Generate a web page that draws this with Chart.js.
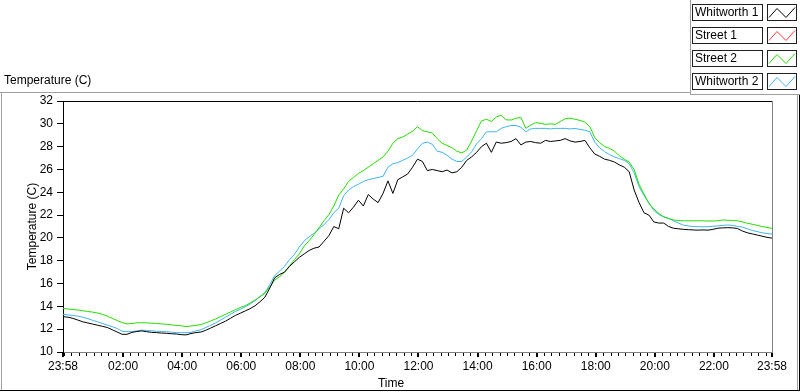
<!DOCTYPE html>
<html lang="en">
<head>
<meta charset="UTF-8" />
<title>Temperature (C)</title>
<style>
  body { margin: 0; background: #ffffff; }
  canvas { display: block; }
</style>
</head>
<body>
<canvas id="tempChart" width="800" height="392"></canvas>

<script src="https://cdn.jsdelivr.net/npm/chart.js"></script>
<script>
  // minutes since 23:58 (10 min samples)
  const timeMinutes = [
    0, 10, 20, 30, 40, 50, 60, 70, 80, 90, 100, 110,
    120, 130, 140, 150, 160, 170, 180, 190, 200, 210, 220, 230,
    240, 250, 260, 270, 280, 290, 300, 310, 320, 330, 340, 350,
    360, 370, 380, 390, 400, 410, 420, 430, 440, 450, 460, 470,
    480, 490, 500, 510, 520, 530, 540, 550, 560, 570, 580, 590,
    600, 610, 620, 630, 640, 650, 660, 670, 680, 690, 700, 710,
    720, 730, 740, 750, 760, 770, 780, 790, 800, 810, 820, 830,
    840, 850, 860, 870, 880, 890, 900, 910, 920, 930, 940, 950,
    960, 970, 980, 990, 1000, 1010, 1020, 1030, 1040, 1050, 1060, 1070,
    1080, 1090, 1100, 1110, 1120, 1130, 1140, 1150, 1160, 1170, 1180, 1190,
    1200, 1210, 1220, 1230, 1240, 1250, 1260, 1270, 1280, 1290, 1300, 1310,
    1320, 1330, 1340, 1350, 1360, 1370, 1380, 1390, 1400, 1410, 1420, 1430,
    1440
  ];

  const whitworth1 = [
    13.1, 13.05, 12.95, 12.8, 12.65, 12.55, 12.45, 12.35, 12.25, 12.15, 11.95, 11.75,
    11.55, 11.55, 11.72, 11.8, 11.85, 11.78, 11.72, 11.7, 11.66, 11.64, 11.6, 11.58,
    11.52, 11.5, 11.62, 11.7, 11.75, 11.9, 12.1, 12.3, 12.5, 12.7, 12.95, 13.2,
    13.4, 13.6, 13.8, 14.05, 14.4, 14.8, 15.6, 16.5, 16.8, 17.0, 17.5, 17.9,
    18.3, 18.6, 18.9, 19.1, 19.2, 19.7, 20.2, 21.0, 20.8, 22.6, 22.2, 22.7,
    23.3, 22.8, 23.8, 23.4, 23.1, 23.9, 25.0, 23.9, 25.1, 25.35, 25.6, 26.2,
    26.9, 26.7, 25.9, 26.0, 25.9, 25.8, 25.95, 25.7, 25.8, 26.2, 26.8, 27.1,
    27.5, 28.0, 28.3, 27.5, 28.4, 28.3, 28.35, 28.45, 28.7, 28.15, 28.4, 28.45,
    28.35, 28.3, 28.55, 28.45, 28.5, 28.55, 28.7, 28.5, 28.4, 28.45, 28.55, 27.9,
    27.35, 27.15, 26.9, 26.8, 26.65, 26.4, 26.2, 25.8, 24.2, 23.1, 22.2, 22.0,
    21.4, 21.3, 21.3, 21.0, 20.85, 20.8, 20.75, 20.72, 20.7, 20.68, 20.7, 20.68,
    20.75, 20.85, 20.88, 20.9, 20.88, 20.82, 20.6, 20.45, 20.35, 20.25, 20.15, 20.05,
    19.98
  ];

  const street1 = [];

  const street2 = [
    13.83, 13.77, 13.72, 13.68, 13.62, 13.55, 13.5, 13.42, 13.3, 13.14, 12.95, 12.76,
    12.58, 12.46, 12.5, 12.55, 12.57, 12.55, 12.52, 12.5, 12.46, 12.43, 12.38, 12.33,
    12.3, 12.22, 12.28, 12.34, 12.4, 12.55, 12.72, 12.9, 13.1, 13.3, 13.5, 13.7,
    13.9, 14.05, 14.3, 14.55, 14.85, 15.15, 15.7, 16.3, 16.6, 17.0, 17.55, 18.1,
    18.6, 19.3, 19.75, 20.3, 20.9, 21.5, 22.05, 22.8, 23.75, 24.3, 24.95, 25.3,
    25.65, 25.9, 26.2, 26.5, 26.8, 27.1, 27.6, 28.3, 28.7, 28.85, 29.1, 29.35,
    29.75, 29.4, 29.3, 29.2, 28.7, 28.3, 28.1, 27.9, 27.6, 27.45, 27.7, 28.5,
    29.4, 30.25, 30.4, 30.2, 30.6, 30.75, 30.35, 30.33, 30.5, 30.55, 29.6, 29.9,
    30.1, 30.05, 29.95, 30.0, 29.95, 30.2, 30.45, 30.5, 30.4, 30.3, 30.15, 29.75,
    28.8, 28.35, 28.0, 27.85, 27.6, 27.2, 26.9, 26.65, 26.0, 24.7, 23.85, 23.0,
    22.55, 22.15, 21.85, 21.7, 21.57, 21.53, 21.5, 21.5, 21.5, 21.5, 21.5, 21.48,
    21.48, 21.5, 21.57, 21.55, 21.52, 21.5, 21.4, 21.28, 21.2, 21.1, 21.0, 20.92,
    20.84
  ];

  const whitworth2 = [
    13.3, 13.25, 13.2, 13.15, 13.05, 12.93, 12.78, 12.65, 12.5, 12.36, 12.22, 12.06,
    11.82, 11.78, 11.78, 11.85, 11.92, 11.88, 11.86, 11.82, 11.8, 11.78, 11.74, 11.7,
    11.69, 11.69, 11.72, 11.85, 11.95, 12.15, 12.35, 12.55, 12.8, 13.05, 13.3, 13.55,
    13.75, 13.95, 14.2, 14.5, 14.85, 15.2, 15.9, 16.7, 17.1, 17.5, 18.1, 18.55,
    19.2, 19.75, 20.1, 20.4, 20.8, 21.15, 21.6, 22.2, 22.6, 23.7, 24.2, 24.5,
    24.7, 24.95, 25.1, 25.2, 25.3, 25.4, 26.2, 26.5, 26.6, 26.8, 27.0, 27.25,
    27.8, 28.3, 28.4, 28.2, 27.6, 27.5, 27.25, 26.9, 26.7, 26.7, 27.1, 27.55,
    28.25, 28.7, 29.3, 29.3, 29.3, 29.6, 29.75, 29.85, 29.85, 29.7, 29.3, 29.55,
    29.6, 29.6, 29.6, 29.55, 29.6, 29.6, 29.6, 29.55, 29.6, 29.5, 29.45, 29.3,
    28.4, 27.9, 27.55, 27.3, 27.1, 26.95, 26.8, 26.5, 25.7, 24.5, 23.7, 23.1,
    22.4, 22.05, 21.85, 21.72, 21.5, 21.3, 21.12, 21.05, 21.0, 20.98, 20.98, 20.98,
    21.02, 21.05, 21.1, 21.13, 21.1, 21.0, 20.95, 20.8, 20.65, 20.55, 20.45, 20.38,
    20.34
  ];

  const seriesNames = ["Whitworth 1", "Street 1", "Street 2", "Whitworth 2"];
  const seriesColors = ["#000000", "#ff3b3b", "#22dd00", "#3fb4f2"];
  const seriesValues = [whitworth1, street1, street2, whitworth2];

  const xTickMinutes = [0, 122, 242, 362, 482, 602, 722, 842, 962, 1082, 1202, 1322, 1440];
  const xTickLabels = ["23:58", "02:00", "04:00", "06:00", "08:00", "10:00", "12:00",
                       "14:00", "16:00", "18:00", "20:00", "22:00", "23:58"];

  const FONT = "'Liberation Sans', Arial, sans-serif";

  function hline(ctx, color, x1, x2, y) {
    ctx.strokeStyle = color;
    ctx.beginPath(); ctx.moveTo(x1, y); ctx.lineTo(x2, y); ctx.stroke();
  }
  function vline(ctx, color, x, y1, y2) {
    ctx.strokeStyle = color;
    ctx.beginPath(); ctx.moveTo(x, y1); ctx.lineTo(x, y2); ctx.stroke();
  }

  // panel frame, caption, legend, minor ticks and axis titles
  const panelPlugin = {
    id: "panel",
    afterDraw(chart) {
      const ctx = chart.ctx;
      const area = chart.chartArea;
      const xs = chart.scales.x;
      ctx.save();
      ctx.lineWidth = 1;

      // outer frame
      hline(ctx, "#a0a0a0", 0, 690, 92.5);
      vline(ctx, "#a0a0a0", 1.5, 92, 390);
      vline(ctx, "#a0a0a0", 690.5, 0, 95);
      hline(ctx, "#a0a0a0", 690, 800, 94.5);
      vline(ctx, "#a0a0a0", 797.5, 95, 390);
      hline(ctx, "#000000", 0, 800, 390.5);
      vline(ctx, "#000000", 799.5, 95, 391);

      // plot box: top black, right grey
      hline(ctx, "#000000", area.left, area.right, Math.round(area.top) + 0.5);
      vline(ctx, "#808080", Math.round(area.right) + 0.5, area.top, area.bottom + 1);

      // minor ticks every 15 min
      ctx.strokeStyle = "#000000";
      for (let m = 2; m <= 1440; m += 15) {
        const px = Math.round(xs.getPixelForValue(m)) + 0.5;
        ctx.beginPath();
        ctx.moveTo(px, area.bottom + 1);
        ctx.lineTo(px, area.bottom + 4);
        ctx.stroke();
      }

      ctx.fillStyle = "#000000";
      ctx.font = "12px " + FONT;
      ctx.textBaseline = "middle";

      // caption
      ctx.textAlign = "left";
      ctx.fillText("Temperature (C)", 4, 81);

      // axis titles
      ctx.textAlign = "center";
      ctx.fillText("Time", 391, 384);
      ctx.save();
      ctx.translate(33, (area.top + area.bottom) / 2);
      ctx.rotate(-Math.PI / 2);
      ctx.fillText("Temperature (C)", 0, 0);
      ctx.restore();

      // legend
      const rowTop = [4.5, 27.5, 50.5, 73.5];
      seriesNames.forEach((name, i) => {
        const t = rowTop[i];
        ctx.strokeStyle = "#202020";
        ctx.fillStyle = "#ffffff";
        ctx.fillRect(692.5, t, 70, 16);
        ctx.strokeRect(692.5, t, 70, 16);
        ctx.fillRect(767.5, t, 29, 16);
        ctx.strokeRect(767.5, t, 29, 16);
        ctx.fillStyle = "#000000";
        ctx.textAlign = "left";
        ctx.fillText(name, 695, t + 8.5);
        ctx.strokeStyle = seriesColors[i];
        ctx.beginPath();
        ctx.moveTo(769, t + 13);
        ctx.lineTo(777, t + 4);
        ctx.lineTo(786, t + 13);
        ctx.lineTo(795, t + 3);
        ctx.stroke();
      });

      ctx.restore();
    }
  };

  const datasets = seriesNames.map((name, i) => ({
    label: name,
    data: seriesValues[i].map((v, k) => ({ x: timeMinutes[k], y: v })),
    borderColor: seriesColors[i],
    borderWidth: 1,
    pointRadius: 0,
    tension: 0,
    fill: false
  }));

  new Chart(document.getElementById("tempChart"), {
    type: "line",
    data: { datasets: datasets },
    options: {
      responsive: false,
      animation: false,
      devicePixelRatio: 1,
      layout: { padding: { top: 101, right: 28, left: 0, bottom: 0 } },
      plugins: {
        legend: { display: false },
        title: { display: false },
        tooltip: { enabled: false }
      },
      scales: {
        x: {
          type: "linear",
          min: 0,
          max: 1440,
          afterFit: (s) => { s.height = 40; },
          afterBuildTicks: (s) => { s.ticks = xTickMinutes.map(v => ({ value: v })); },
          ticks: {
            autoSkip: false,
            maxRotation: 0,
            padding: 2,
            color: "#000000",
            font: { family: FONT, size: 12 },
            callback: (v, i) => xTickLabels[i]
          },
          grid: { drawOnChartArea: false, tickLength: 5, lineWidth: 2, color: "#000000" },
          border: { color: "#808080", width: 1 }
        },
        y: {
          min: 10,
          max: 32,
          afterFit: (s) => { s.width = 63; },
          ticks: {
            stepSize: 2,
            padding: 4,
            color: "#000000",
            font: { family: FONT, size: 12 }
          },
          grid: { drawOnChartArea: false, tickLength: 6, color: "#000000" },
          border: { color: "#000000", width: 1 }
        }
      }
    },
    plugins: [panelPlugin]
  });
</script>
</body>
</html>
